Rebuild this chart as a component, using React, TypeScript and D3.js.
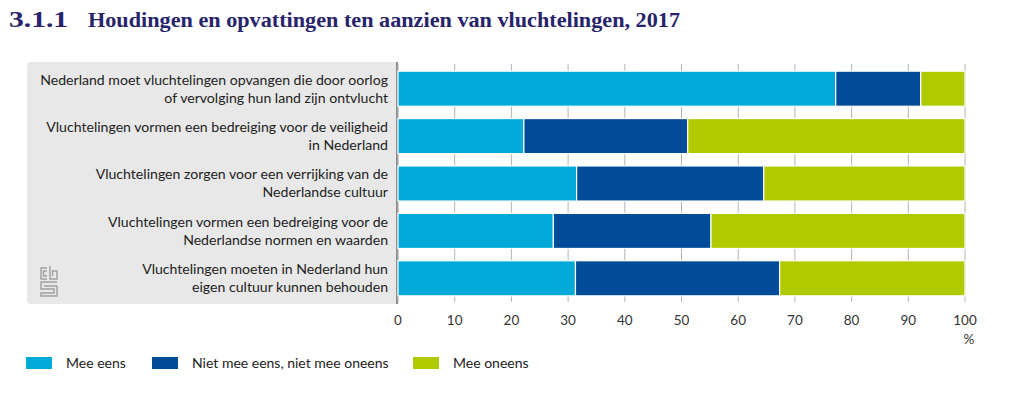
import React from 'react';
import * as d3 from 'd3';

const categories = [
  'Nederland moet vluchtelingen opvangen die door oorlog|of vervolging hun land zijn ontvlucht',
  'Vluchtelingen vormen een bedreiging voor de veiligheid|in Nederland',
  'Vluchtelingen zorgen voor een verrijking van de|Nederlandse cultuur',
  'Vluchtelingen vormen een bedreiging voor de|Nederlandse normen en waarden',
  'Vluchtelingen moeten in Nederland hun|eigen cultuur kunnen behouden',
];
const meeEens = [77.2, 22.2, 31.5, 27.4, 31.3];
const neutraal = [15, 28.9, 33, 27.8, 36];
const meeOneens = [7.8, 48.9, 35.5, 44.8, 32.7];
const seriesNames = ['Mee eens', 'Niet mee eens, niet mee oneens', 'Mee oneens'];
const seriesColors = ['#00aad8', '#004c99', '#b0ca00'];
const xTicks = [0, 10, 20, 30, 40, 50, 60, 70, 80, 90, 100];

const W = 1016;
const H = 394;
const labelFont = 'Lato, "Open Sans", sans-serif';

export default function App() {
  const x = d3.scaleLinear().domain([0, 100]).range([398, 965]);
  const y = d3.scaleBand<number>()
    .domain(d3.range(categories.length))
    .range([65, 302])
    .paddingInner(0.26)
    .paddingOuter(0.13);

  const rows = categories.map((c, i) => ({ i, a: meeEens[i], b: neutraal[i], c: meeOneens[i] }));
  const stack = d3.stack<any>().keys(['a', 'b', 'c'])(rows);

  const legendX = [26, 152, 413];

  return (
    <svg width={W} height={H} style={{ position: 'absolute', left: 0, top: 0, background: '#fff' }}>
      <g fontFamily='"Liberation Serif", serif' fontWeight="bold" fill="#27246b">
        <text x={9} y={27} fontSize={23} textLength={59} lengthAdjust="spacingAndGlyphs">3.1.1</text>
        <text x={88} y={27} fontSize={21} textLength={592} lengthAdjust="spacingAndGlyphs">Houdingen en opvattingen ten aanzien van vluchtelingen, 2017</text>
      </g>

      {/* label panel */}
      <rect x={27} y={62} width={372} height={242} rx={4} fill="#e8e8e8" />
      <line x1={397} x2={397} y1={62} y2={304} stroke="#8c8c8c" strokeWidth={2} />

      {/* cbs logo */}
      <g fill="none" stroke="#a0a0a0" strokeWidth={1.4}>
        <path d="M47,268 H41 V279 H47 M47,271 H43.5 V276 H47" />
        <path d="M50,266 V279 H57 V271 H52.5 V276" />
        <path d="M57,282 H41 V289 H54 V293 H41 V296 H57 V286 H44" />
      </g>

      {/* gridlines */}
      {xTicks.map(t => (
        <line key={t} x1={x(t)} x2={x(t)} y1={64} y2={302} stroke="#b4b4b4" strokeWidth={1} />
      ))}

      {/* bars */}
      {stack.map((s, si) => (
        <g key={si} fill={seriesColors[si]}>
          {s.map((d, i) => (
            <rect key={i} x={x(d[0])} y={y(i)} width={x(d[1]) - x(d[0])} height={y.bandwidth()}
              stroke="#fff" strokeWidth={1.2} />
          ))}
        </g>
      ))}

      {/* category labels */}
      {categories.map((c, i) => {
        const lines = c.split('|');
        const cy = (y(i) as number) + y.bandwidth() / 2;
        return (
          <text key={i} textAnchor="end" fontFamily={labelFont} fontSize={14.1} fill="#222">
            {lines.map((l, li) => (
              <tspan key={li} x={388} y={cy + (li - (lines.length - 1) / 2) * 18 + 4.8}>{l}</tspan>
            ))}
          </text>
        );
      })}

      {/* x axis labels */}
      {xTicks.map(t => (
        <text key={t} x={x(t)} y={325} textAnchor="middle" fontFamily={labelFont} fontSize={13.5} fill="#333">{t}</text>
      ))}
      <text x={969} y={344} textAnchor="middle" fontFamily={labelFont} fontSize={13.5} fill="#333">%</text>

      {/* legend */}
      {seriesNames.map((n, i) => (
        <g key={n}>
          <rect x={legendX[i]} y={357} width={26} height={12} fill={seriesColors[i]} />
          <text x={legendX[i] + 40} y={368} fontFamily={labelFont} fontSize={14} fill="#222">{n}</text>
        </g>
      ))}
    </svg>
  );
}
